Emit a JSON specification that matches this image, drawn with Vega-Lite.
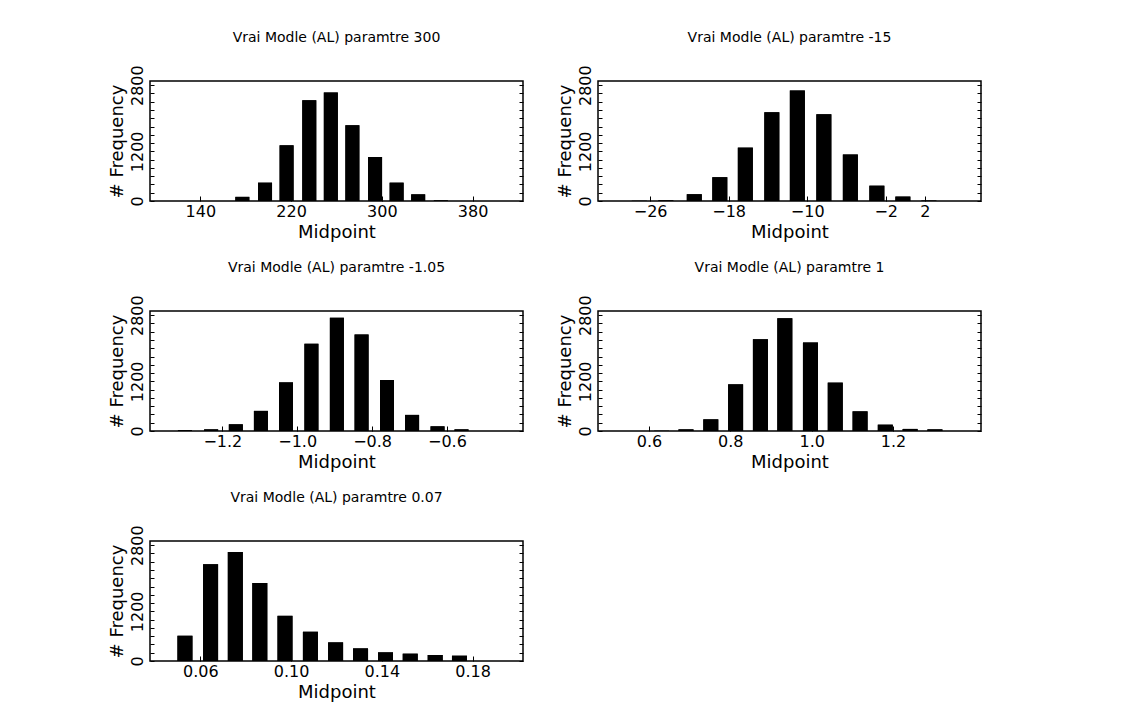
{
  "$schema": "https://vega.github.io/schema/vega-lite/v6.json",
  "background": "white",
  "padding": {"left": 107, "top": 30, "right": 5, "bottom": 5},
  "datasets": {
    "p1": [
      {"midpoint": 177, "frequency": 100},
      {"midpoint": 197, "frequency": 443},
      {"midpoint": 216, "frequency": 1346},
      {"midpoint": 236, "frequency": 2434},
      {"midpoint": 255, "frequency": 2620},
      {"midpoint": 274, "frequency": 1830},
      {"midpoint": 294, "frequency": 1064},
      {"midpoint": 313, "frequency": 443},
      {"midpoint": 332, "frequency": 161},
      {"midpoint": 352, "frequency": 15}
    ],
    "p2": [
      {"midpoint": -27.1, "frequency": 5},
      {"midpoint": -24.4, "frequency": 15},
      {"midpoint": -21.5, "frequency": 164},
      {"midpoint": -18.9, "frequency": 575},
      {"midpoint": -16.3, "frequency": 1290},
      {"midpoint": -13.6, "frequency": 2144},
      {"midpoint": -11.0, "frequency": 2670},
      {"midpoint": -8.3, "frequency": 2095},
      {"midpoint": -5.6, "frequency": 1125},
      {"midpoint": -2.9, "frequency": 370},
      {"midpoint": -0.25, "frequency": 107},
      {"midpoint": 2.4, "frequency": 10}
    ],
    "p3": [
      {"midpoint": -1.300, "frequency": 20},
      {"midpoint": -1.230, "frequency": 40},
      {"midpoint": -1.164, "frequency": 162},
      {"midpoint": -1.097, "frequency": 486},
      {"midpoint": -1.030, "frequency": 1175},
      {"midpoint": -0.962, "frequency": 2106},
      {"midpoint": -0.894, "frequency": 2738},
      {"midpoint": -0.828, "frequency": 2333},
      {"midpoint": -0.760, "frequency": 1231},
      {"midpoint": -0.693, "frequency": 389},
      {"midpoint": -0.625, "frequency": 113},
      {"midpoint": -0.561, "frequency": 40}
    ],
    "p4": [
      {"midpoint": 0.631, "frequency": 5},
      {"midpoint": 0.691, "frequency": 40},
      {"midpoint": 0.752, "frequency": 282},
      {"midpoint": 0.813, "frequency": 1128},
      {"midpoint": 0.874, "frequency": 2216},
      {"midpoint": 0.934, "frequency": 2724},
      {"midpoint": 0.997, "frequency": 2136},
      {"midpoint": 1.058, "frequency": 1169},
      {"midpoint": 1.119, "frequency": 475},
      {"midpoint": 1.181, "frequency": 153},
      {"midpoint": 1.242, "frequency": 50},
      {"midpoint": 1.303, "frequency": 40}
    ],
    "p5": [
      {"midpoint": 0.0532, "frequency": 610},
      {"midpoint": 0.0645, "frequency": 2337},
      {"midpoint": 0.0754, "frequency": 2634},
      {"midpoint": 0.0862, "frequency": 1887},
      {"midpoint": 0.0973, "frequency": 1092},
      {"midpoint": 0.1085, "frequency": 707},
      {"midpoint": 0.1196, "frequency": 450},
      {"midpoint": 0.1306, "frequency": 305},
      {"midpoint": 0.1416, "frequency": 209},
      {"midpoint": 0.1525, "frequency": 177},
      {"midpoint": 0.1635, "frequency": 145},
      {"midpoint": 0.1742, "frequency": 128}
    ]
  },
  "columns": 2,
  "spacing": {"row": 110, "column": 75},
  "bounds": "flush",
  "concat": [
    {
      "width": 373, "height": 120,
      "title": "Vrai Modle (AL) paramtre 300",
      "data": {"name": "p1"},
      "encoding": {
        "x": {"field": "midpoint", "type": "quantitative", "scale": {"domain": [100, 420], "nice": false, "zero": false},
              "axis": {"values": [140, 220, 300, 380], "format": "d", "title": "Midpoint"}}
      },
      "layer": [
        {"mark": {"type": "bar", "color": "black", "width": 14},
         "encoding": {"y": {"field": "frequency", "type": "quantitative", "scale": {"domain": [0, 2900], "nice": false},
           "axis": {"orient": "left", "title": "# Frequency", "format": "d", "values": [0,200,400,600,800,1000,1200,1400,1600,1800,2000,2200,2400,2600,2800],
                    "labelExpr": "datum.value == 0 || datum.value == 1200 || datum.value == 2800 ? datum.label : ''"}}}},
        {"mark": {"type": "bar", "color": "black", "width": 14},
         "encoding": {"y": {"field": "frequency", "type": "quantitative",
           "axis": {"orient": "right", "title": null, "labels": false, "values": [0,200,400,600,800,1000,1200,1400,1600,1800,2000,2200,2400,2600,2800]}}}}
      ],
      "resolve": {"axis": {"y": "independent"}}
    },
    {
      "width": 383, "height": 120,
      "title": "Vrai Modle (AL) paramtre -15",
      "data": {"name": "p2"},
      "encoding": {
        "x": {"field": "midpoint", "type": "quantitative", "scale": {"domain": [-30.8, 7.2], "nice": false, "zero": false},
              "axis": {"values": [-26, -18, -10, -2, 2], "format": "d", "title": "Midpoint"}}
      },
      "layer": [
        {"mark": {"type": "bar", "color": "black", "width": 15},
         "encoding": {"y": {"field": "frequency", "type": "quantitative", "scale": {"domain": [0, 2900], "nice": false},
           "axis": {"orient": "left", "title": "# Frequency", "format": "d", "values": [0,200,400,600,800,1000,1200,1400,1600,1800,2000,2200,2400,2600,2800],
                    "labelExpr": "datum.value == 0 || datum.value == 1200 || datum.value == 2800 ? datum.label : ''"}}}},
        {"mark": {"type": "bar", "color": "black", "width": 15},
         "encoding": {"y": {"field": "frequency", "type": "quantitative",
           "axis": {"orient": "right", "title": null, "labels": false, "values": [0,200,400,600,800,1000,1200,1400,1600,1800,2000,2200,2400,2600,2800]}}}}
      ],
      "resolve": {"axis": {"y": "independent"}}
    },
    {
      "width": 373, "height": 120,
      "title": "Vrai Modle (AL) paramtre -1.05",
      "data": {"name": "p3"},
      "encoding": {
        "x": {"field": "midpoint", "type": "quantitative", "scale": {"domain": [-1.38, -0.41], "nice": false, "zero": false},
              "axis": {"values": [-1.2, -1.0, -0.8, -0.6], "format": ".1f", "title": "Midpoint"}}
      },
      "layer": [
        {"mark": {"type": "bar", "color": "black", "width": 14},
         "encoding": {"y": {"field": "frequency", "type": "quantitative", "scale": {"domain": [0, 2900], "nice": false},
           "axis": {"orient": "left", "title": "# Frequency", "format": "d", "values": [0,200,400,600,800,1000,1200,1400,1600,1800,2000,2200,2400,2600,2800],
                    "labelExpr": "datum.value == 0 || datum.value == 1200 || datum.value == 2800 ? datum.label : ''"}}}},
        {"mark": {"type": "bar", "color": "black", "width": 14},
         "encoding": {"y": {"field": "frequency", "type": "quantitative",
           "axis": {"orient": "right", "title": null, "labels": false, "values": [0,200,400,600,800,1000,1200,1400,1600,1800,2000,2200,2400,2600,2800]}}}}
      ],
      "resolve": {"axis": {"y": "independent"}}
    },
    {
      "width": 383, "height": 120,
      "title": "Vrai Modle (AL) paramtre 1",
      "data": {"name": "p4"},
      "encoding": {
        "x": {"field": "midpoint", "type": "quantitative", "scale": {"domain": [0.487, 1.404], "nice": false, "zero": false},
              "axis": {"values": [0.6, 0.8, 1.0, 1.2], "format": ".1f", "title": "Midpoint"}}
      },
      "layer": [
        {"mark": {"type": "bar", "color": "black", "width": 15},
         "encoding": {"y": {"field": "frequency", "type": "quantitative", "scale": {"domain": [0, 2900], "nice": false},
           "axis": {"orient": "left", "title": "# Frequency", "format": "d", "values": [0,200,400,600,800,1000,1200,1400,1600,1800,2000,2200,2400,2600,2800],
                    "labelExpr": "datum.value == 0 || datum.value == 1200 || datum.value == 2800 ? datum.label : ''"}}}},
        {"mark": {"type": "bar", "color": "black", "width": 15},
         "encoding": {"y": {"field": "frequency", "type": "quantitative",
           "axis": {"orient": "right", "title": null, "labels": false, "values": [0,200,400,600,800,1000,1200,1400,1600,1800,2000,2200,2400,2600,2800]}}}}
      ],
      "resolve": {"axis": {"y": "independent"}}
    },
    {
      "width": 373, "height": 120,
      "title": "Vrai Modle (AL) paramtre 0.07",
      "data": {"name": "p5"},
      "encoding": {
        "x": {"field": "midpoint", "type": "quantitative", "scale": {"domain": [0.04, 0.2], "nice": false, "zero": false},
              "axis": {"values": [0.06, 0.10, 0.14, 0.18], "format": ".2f", "title": "Midpoint"}}
      },
      "layer": [
        {"mark": {"type": "bar", "color": "black", "width": 15},
         "encoding": {"y": {"field": "frequency", "type": "quantitative", "scale": {"domain": [0, 2900], "nice": false},
           "axis": {"orient": "left", "title": "# Frequency", "format": "d", "values": [0,200,400,600,800,1000,1200,1400,1600,1800,2000,2200,2400,2600,2800],
                    "labelExpr": "datum.value == 0 || datum.value == 1200 || datum.value == 2800 ? datum.label : ''"}}}},
        {"mark": {"type": "bar", "color": "black", "width": 15},
         "encoding": {"y": {"field": "frequency", "type": "quantitative",
           "axis": {"orient": "right", "title": null, "labels": false, "values": [0,200,400,600,800,1000,1200,1400,1600,1800,2000,2200,2400,2600,2800]}}}}
      ],
      "resolve": {"axis": {"y": "independent"}}
    }
  ],
  "config": {
    "font": "DejaVu Sans",
    "view": {"stroke": "black", "strokeWidth": 1.5},
    "title": {"font": "DejaVu Sans", "fontSize": 14, "fontWeight": "normal", "color": "black", "offset": 20},
    "axis": {
      "grid": false, "domain": false,
      "labelFont": "DejaVu Sans", "labelFontSize": 16, "labelColor": "black",
      "titleFont": "DejaVu Sans", "titleFontSize": 18, "titleFontWeight": "normal", "titleColor": "black",
      "tickColor": "black", "labelFlush": false, "labelOverlap": false, "labelBound": false
    },
    "axisX": {"tickSize": -5, "labelPadding": 7, "titlePadding": 4},
    "axisLeft": {"tickSize": -4, "labelPadding": 9, "labelAngle": 270, "labelAlign": "center", "labelBaseline": "bottom", "titlePadding": 3},
    "axisRight": {"tickSize": -4}
  }
}
